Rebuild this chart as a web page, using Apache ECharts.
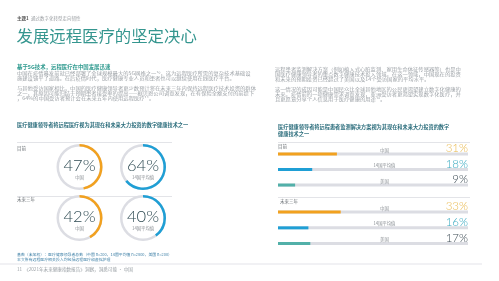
<!DOCTYPE html>
<html><head><meta charset="utf-8">
<script src="https://cdn.jsdelivr.net/npm/echarts@6/dist/echarts.min.js"></script>
<style>html,body{margin:0;padding:0;background:#fff}#c{width:499px;height:281px}</style>
</head><body><div id="c"></div>
<script>
// ---- data ----
const countries = ['中国', '14国平均值', '美国'];
const gaugeNames = ['中国', '14国平均值'];
const telehealthNow = [47, 64];
const telehealthFuture = [42, 40];
const rpmNow = [31, 18, 9];
const rpmFuture = [33, 16, 17];
const periods = ['目前', '未来三年'];

const CJK = '"Noto Sans CJK SC","Noto Sans",sans-serif';
const NUM = 'Lato,"Open Sans",sans-serif';
const ORANGE = '#f2a11f', BLUE = '#1f9fd5', TEAL = '#52b0a9', TRACK = '#dcdde3';
const barColors = [ORANGE, BLUE, TEAL];
const pctColors = ['#e9b94e', '#35a8bf', '#3d4c55'];

const chart = echarts.init(document.getElementById('c'), null, {renderer: 'canvas'});

function gauge(cx, cy, val, name, color) {
  return {
    type: 'gauge', center: [cx, cy], radius: 23,
    startAngle: 90, endAngle: -270, min: 0, max: 100,
    axisLine: {lineStyle: {width: 2.5, color: [[1, TRACK]]}},
    progress: {show: true, width: 2.5, itemStyle: {color: color}},
    pointer: {show: false}, axisTick: {show: false}, splitLine: {show: false}, axisLabel: {show: false},
    anchor: {show: false},
    title: {offsetCenter: [0, 10], fontSize: 4.3, color: '#8a8f94', fontFamily: CJK},
    detail: {formatter: '{value}%', offsetCenter: [0, -1], fontSize: 16.5, color: '#2e4a52', fontFamily: NUM, fontWeight: 300},
    data: [{value: val, name: name}]
  };
}

function barSeries(gi, values) {
  return [
    {type: 'bar', xAxisIndex: gi, yAxisIndex: gi, barWidth: 3, barGap: '-100%', silent: true,
     itemStyle: {color: TRACK}, z: 1,
     label: {show: true, position: ['56%', -0.5], align: 'center', verticalAlign: 'bottom',
             fontSize: 4.3, color: '#8a8f94', fontFamily: CJK, formatter: p => countries[p.dataIndex]},
     data: countries.map(() => 100)},
    {type: 'bar', xAxisIndex: gi, yAxisIndex: gi, barWidth: 3, barGap: '-100%', silent: true,
     itemStyle: {color: 'transparent'}, z: 3,
     label: {show: true, position: ['100%', 1.8], align: 'right', verticalAlign: 'bottom',
             fontSize: 11.5, fontFamily: NUM, fontWeight: 300, formatter: p => values[p.dataIndex] + '%'},
     data: countries.map((c, i) => ({value: 100, label: {color: pctColors[i]}}))},
    {type: 'bar', xAxisIndex: gi, yAxisIndex: gi, barWidth: 3, barGap: '-100%', silent: true, z: 2,
     data: values.map((v, i) => ({value: v, itemStyle: {color: barColors[i]}}))}
  ];
}

const SX = 1.18;
function para(x, y, w, text) {
  return {type: 'text', x: x, y: y, scaleX: SX, silent: true,
    style: {text: text, fontFamily: CJK, fontSize: 4.5, lineHeight: 5, fill: '#9da2a7',
            width: w / SX, overflow: 'break', align: 'left', verticalAlign: 'top'}};
}
function txt(x, y, text, style) {
  return {type: 'text', left: x, top: y, silent: true, style: Object.assign({text: text, fontFamily: CJK}, style)};
}
function line(x1, y1, x2, y2, color, w) {
  return {type: 'line', shape: {x1, y1, x2, y2}, style: {stroke: color, lineWidth: w}, silent: true};
}

const graphics = [
  txt(17, 16.5, '主题1', {fontSize: 4.5, fontWeight: 'bold', fill: '#555'}),
  txt(31, 16.5, '通过数字化转型走向韧性', {fontSize: 4.5, fill: '#9a9ea2'}),
  txt(16.5, 28, '发展远程医疗的坚定决心', {fontSize: 16.4, fill: '#35968f'}),
  txt(17, 64.5, '基于5G技术，远程医疗在中国发展迅速', {fontSize: 5.4, fontWeight: 'bold', fill: '#2f9a8f'}),
  para(17, 70.5, 241, '中国在疫情暴发前就已经部署了全球规模最大的5G网络之一¹⁰，这为远程医疗所需的复杂技术基础设施建设铺平了道路。在后疫情时代，医疗健康专业人员和患者也可以继续使用在线医疗平台。'),
  para(17, 85.5, 241, '与其他受访国家相比，中国的医疗健康领导者更少数预计将在未来三年内保持远程医疗技术投资的群体之一，其原因可能归结于预期患者接受率的提高——据贝恩公司调查发现，在有保险全额支付的前提下，64%的中国受访者预计会在未来五年内使用远程医疗¹¹。'),
  para(275, 66.5, 189, '远程患者监测解决方案（例如植入式心脏监测、家用生命体征传感器等）也是中国医疗健康领导者的重点数字健康技术投入领域。在这一领域，中国现在的投资和未来的预期投资已经超过了美国以及14个受访国家的平均水平。'),
  para(275, 86.5, 189, '这一情况的成因可能是中国民众比全球其他地区的公民更渴望建立数字化健康的未来。疫情前的一项健康需求调查发现，亚洲受访者更渴望实现数字化医疗，并且更愿意分享个人信息用于医疗健康的用途¹²。'),
  txt(17, 122.5, '医疗健康领导者将远程医疗视为其现在和未来大力投资的数字健康技术之一', {fontSize: 5.2, fontWeight: 'bold', fill: '#2b6d7c'}),
  txt(278, 123.5, '医疗健康领导者将远程患者监测解决方案视为其现在和未来大力投资的数字\n健康技术之一', {fontSize: 5.2, lineHeight: 7, fontWeight: 'bold', fill: '#2b6d7c'}),
  line(17, 142.5, 172, 142.5, '#e3e4e8', 1),
  line(17, 196.5, 172, 196.5, '#e3e4e8', 1),
  line(278, 142.5, 470, 142.5, '#e3e4e8', 1),
  line(278, 197.5, 470, 197.5, '#e3e4e8', 1),
  txt(17, 146, periods[0], {fontSize: 4.5, fill: '#6b7075'}),
  txt(17, 197.5, periods[1], {fontSize: 4.5, fill: '#6b7075'}),
  txt(278, 144, periods[0], {fontSize: 4.5, fill: '#6b7075'}),
  txt(280, 199, periods[1], {fontSize: 4.5, fill: '#6b7075'}),
  txt(17, 253, '基数（未加权）：医疗健康领导者总数（中国 n=200，14国平均值 n=2800，美国 n=200）', {fontSize: 3.9, fill: '#3d7fa6'}),
  txt(17, 257.3, '本文所有远程医疗相关投入均包括远程医疗和虚拟护理', {fontSize: 3.9, fill: '#3d7fa6'}),
  line(0, 264, 482, 264, '#ececf0', 1.6),
  txt(17, 267, '11  《2021年未来健康指数报告》洞察，洞悉可能 • 中国', {fontSize: 4.6, fill: '#9aa0a5'})
];

const option = {
  backgroundColor: '#ffffff',
  animation: false,
  grid: [
    {left: 278, right: 31, top: 146.3, height: 46.5},
    {left: 278, right: 31, top: 204.2, height: 47.3}
  ],
  xAxis: [0, 1].map(i => ({type: 'value', gridIndex: i, min: 0, max: 100, show: false})),
  yAxis: [0, 1].map(i => ({type: 'category', gridIndex: i, data: countries, inverse: true, show: false})),
  series: [
    gauge(79.5, 167, telehealthNow[0], gaugeNames[0], ORANGE),
    gauge(143, 167, telehealthNow[1], gaugeNames[1], BLUE),
    gauge(79.5, 218, telehealthFuture[0], gaugeNames[0], ORANGE),
    gauge(143, 218, telehealthFuture[1], gaugeNames[1], BLUE),
    ...barSeries(0, rpmNow),
    ...barSeries(1, rpmFuture)
  ],
  graphic: graphics
};
chart.setOption(option);
</script></body></html>
